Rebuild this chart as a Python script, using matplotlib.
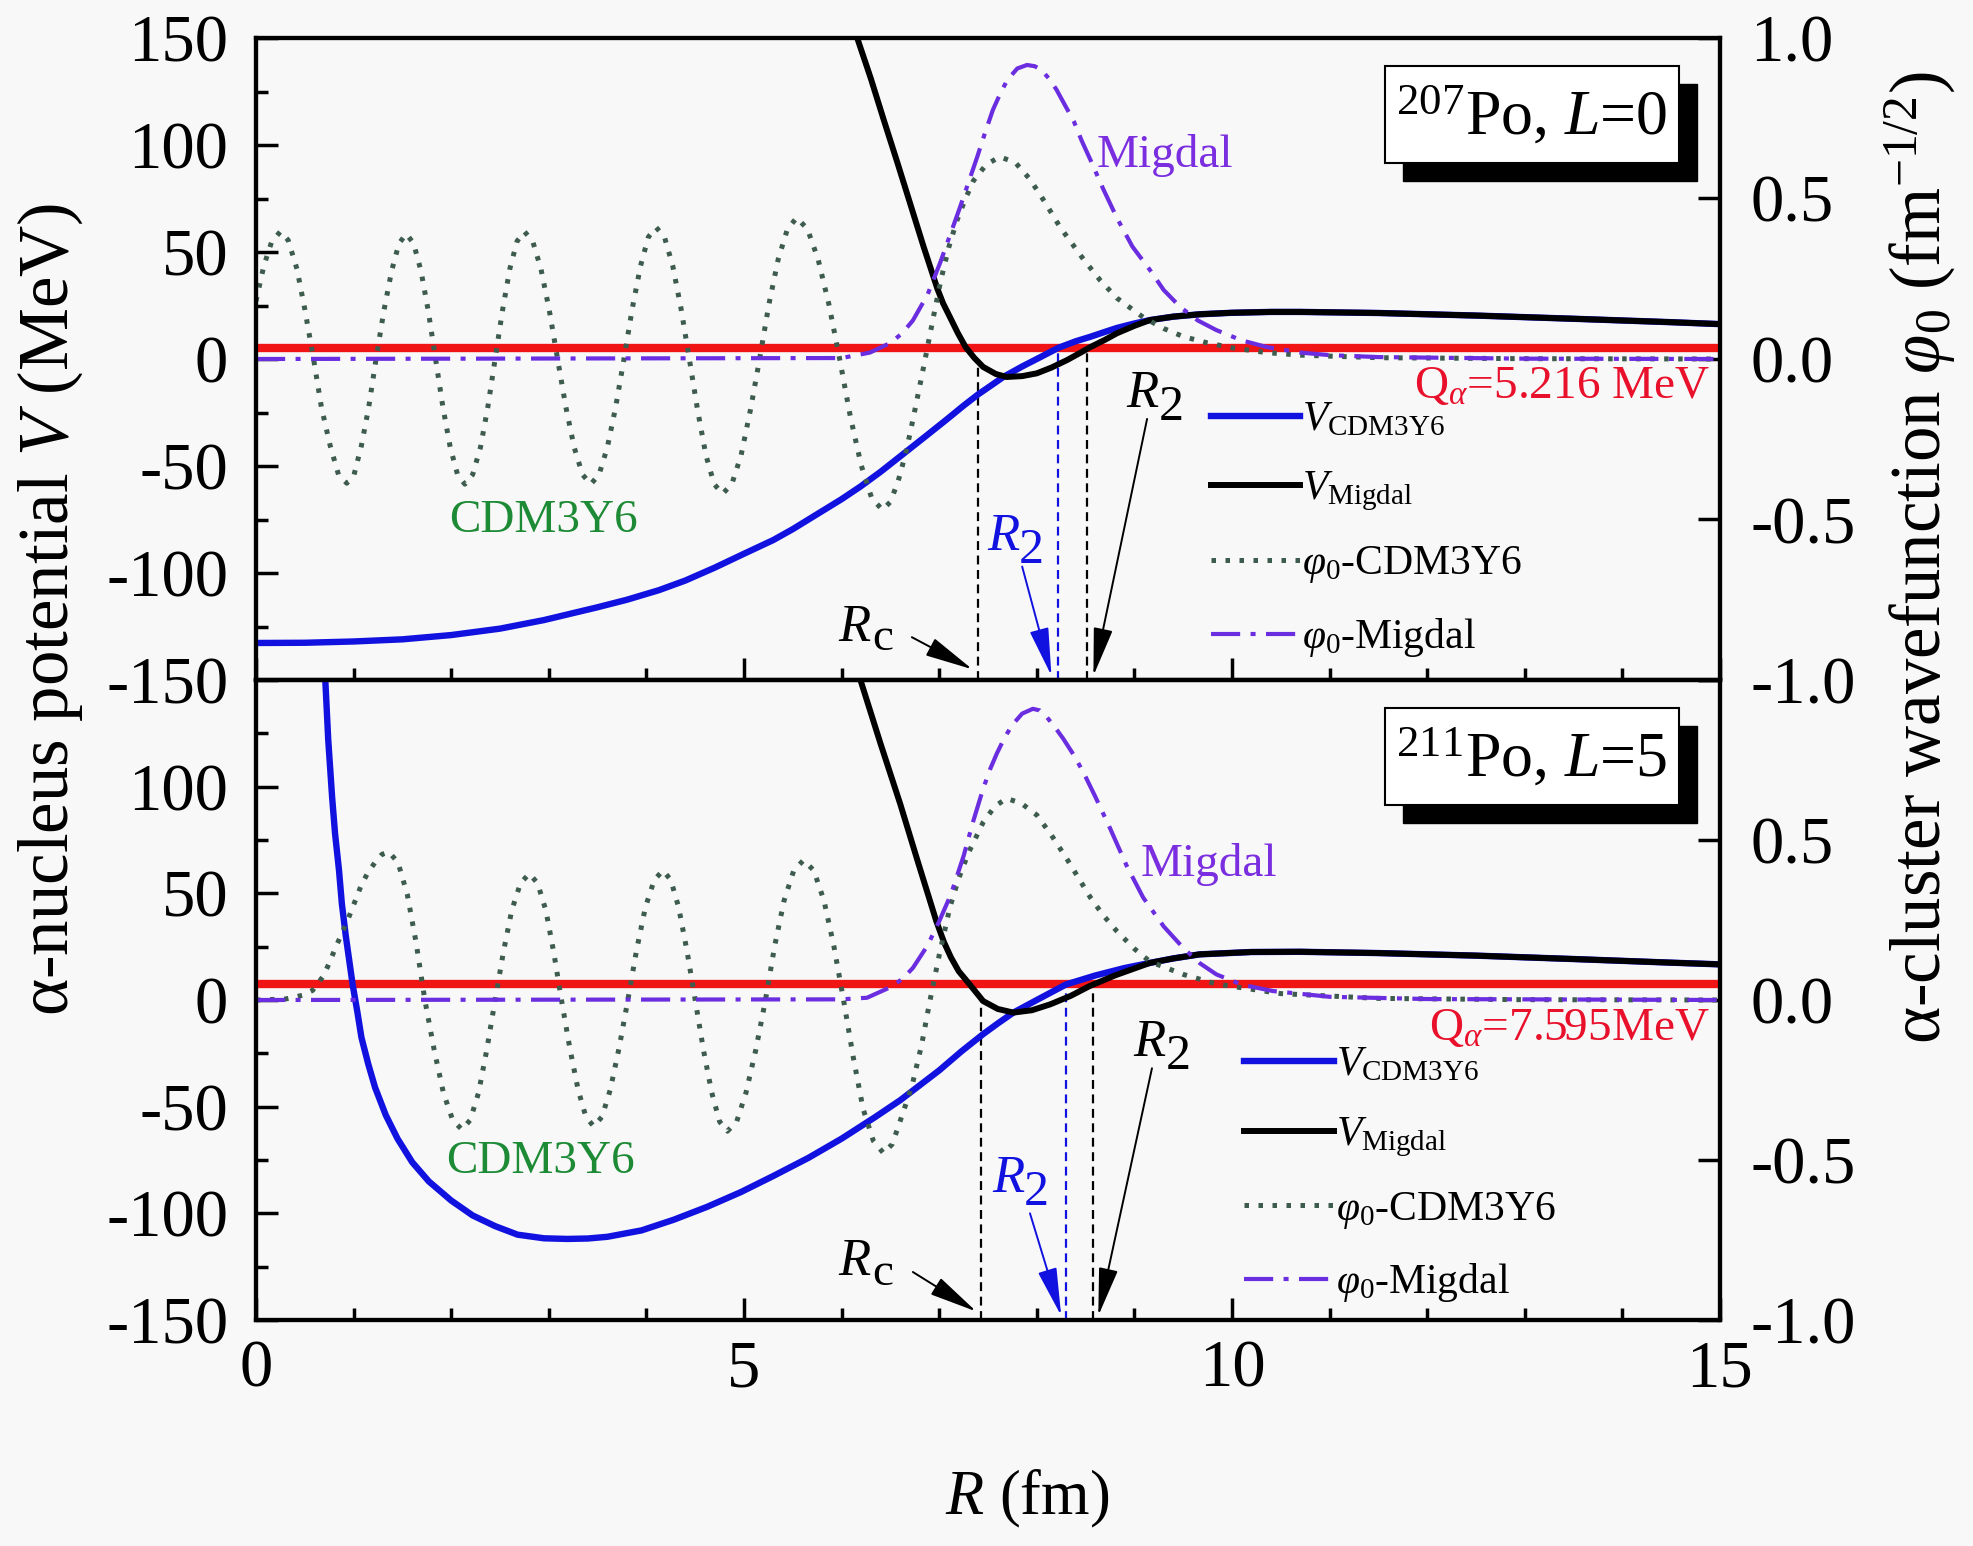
import numpy as np
import matplotlib
matplotlib.use('Agg')
import matplotlib.pyplot as plt
from matplotlib.patches import Rectangle
from matplotlib.ticker import MultipleLocator, FormatStrFormatter
import matplotlib.transforms as mtransforms

plt.rcParams['font.family'] = ['Liberation Serif', 'DejaVu Serif']
plt.rcParams['mathtext.fontset'] = 'custom'
plt.rcParams['mathtext.rm'] = 'Liberation Serif'
plt.rcParams['mathtext.it'] = 'Liberation Serif:italic'
plt.rcParams['mathtext.bf'] = 'Liberation Serif:bold'
plt.rcParams['axes.unicode_minus'] = False

# ---------------- data: top panel (207Po, L=0) ----------------
top_nucleus = "207"
top_L = "0"
top_Q = 5.216
top_Q_label = "=5.216 MeV"

top_R_vcdm = [0.0, 0.5, 1.0, 1.5, 2.0, 2.5, 2.95, 3.5, 3.8, 4.13, 4.4, 4.7, 5.0, 5.3, 5.5, 5.75,
              6.0, 6.19, 6.4, 6.6, 6.85, 7.07, 7.25, 7.4, 7.55, 7.66, 7.85, 8.0, 8.22, 8.4,
              8.55, 8.7, 8.82, 9.0, 9.16, 9.4, 9.67, 10.0, 10.4, 10.7, 11.5, 12.5, 13.5, 14.5,
              15.0]
top_V_vcdm = [-132.7, -132.6, -132.0, -131.0, -129.0, -126.0, -122.0, -116.0, -112.5, -108.0,
              -103.5, -97.5, -91.0, -84.6, -79.5, -72.5, -65.5, -59.7, -52.7, -45.5, -36.5,
              -28.5, -21.8, -16.5, -11.8, -8.3, -3.5, 0.0, 5.2, 8.3, 10.4, 12.7, 14.5, 16.6,
              18.2, 19.8, 20.9, 21.6, 22.0, 22.0, 21.5, 20.3, 18.8, 17.2, 16.3]

top_R_vmig = [6.16, 6.3, 6.43, 6.57, 6.7, 6.84, 6.98, 7.04, 7.11, 7.19, 7.27, 7.36, 7.45, 7.58,
              7.69, 7.85, 8.0, 8.15, 8.31, 8.45, 8.55, 8.7, 8.82, 9.0, 9.16, 9.4, 9.67, 10.0,
              10.4, 10.7, 11.5, 12.5, 13.5, 14.5, 15.0]
top_V_vmig = [150.0, 131.0, 112.0, 92.0, 73.0, 52.5, 33.0, 26.0, 19.6, 12.2, 5.6, 0.5, -3.7,
              -7.0, -8.4, -8.0, -6.7, -4.0, -0.5, 3.0, 5.6, 9.0, 12.0, 15.5, 18.2, 19.8, 20.9,
              21.6, 22.0, 22.0, 21.5, 20.3, 18.8, 17.2, 16.3]

top_R_phicdm = [0.00, 0.08, 0.16, 0.25, 0.33, 0.42, 0.50, 0.59, 0.67, 0.76, 0.845, 0.93, 1.005,
                1.08, 1.155, 1.23, 1.31, 1.39, 1.465, 1.54, 1.615, 1.69, 1.765, 1.84, 1.915,
                1.99, 2.065, 2.14, 2.22, 2.30, 2.375, 2.45, 2.525, 2.60, 2.675, 2.75, 2.835,
                2.92, 3.005, 3.09, 3.175, 3.26, 3.345, 3.43, 3.515, 3.60, 3.685, 3.77, 3.855,
                3.94, 4.02, 4.10, 4.185, 4.27, 4.355, 4.44, 4.525, 4.61, 4.695, 4.78, 4.875,
                4.97, 5.065, 5.16, 5.255, 5.35, 5.445, 5.54, 5.65, 5.76, 5.87, 5.98, 6.09,
                6.20, 6.31, 6.42, 6.50, 6.58, 6.66, 6.73, 6.79, 6.85, 6.94, 7.02, 7.10, 7.18,
                7.27, 7.35, 7.48, 7.62, 7.78, 7.93, 8.08, 8.24, 8.36, 8.48, 8.65, 8.82, 9.09,
                9.3, 9.5, 9.75, 10.0, 10.35, 10.7, 11.5, 13.0, 15.0]
top_P_phicdm = [0.18, 0.29, 0.365, 0.397, 0.37, 0.28, 0.155, 0.0, -0.15, -0.27, -0.36, -0.387,
                -0.36, -0.27, -0.15, 0.0, 0.15, 0.275, 0.36, 0.39, 0.36, 0.275, 0.15, 0.0,
                -0.15, -0.275, -0.36, -0.39, -0.36, -0.275, -0.15, 0.0, 0.15, 0.28, 0.367,
                0.397, 0.367, 0.28, 0.152, 0.0, -0.15, -0.275, -0.36, -0.39, -0.36, -0.275,
                -0.15, 0.0, 0.157, 0.29, 0.38, 0.41, 0.38, 0.29, 0.157, 0.0, -0.16, -0.30,
                -0.39, -0.42, -0.39, -0.30, -0.16, 0.0, 0.17, 0.31, 0.405, 0.44, 0.405, 0.31,
                0.17, 0.0, -0.18, -0.33, -0.435, -0.47, -0.445, -0.38, -0.29, -0.19, -0.10,
                -0.01, 0.13, 0.25, 0.35, 0.43, 0.50, 0.555, 0.605, 0.63, 0.612, 0.56, 0.49,
                0.41, 0.36, 0.31, 0.245, 0.19, 0.13, 0.095, 0.07, 0.05, 0.035, 0.02, 0.012,
                0.004, 0.001, 0.0]

top_R_phimig = [0.0, 6.0, 6.29, 6.5, 6.62, 6.73, 6.88, 7.01, 7.11, 7.21, 7.30, 7.39, 7.47, 7.55,
                7.63, 7.7, 7.8, 7.9, 7.98, 8.05, 8.12, 8.2, 8.29, 8.38, 8.46, 8.55, 8.68, 8.82,
                8.98, 9.16, 9.3, 9.47, 9.65, 9.84, 10.1, 10.36, 10.7, 11.0, 11.5, 13.0, 15.0]
top_P_phimig = [0.0, 0.003, 0.02, 0.05, 0.08, 0.12, 0.20, 0.30, 0.385, 0.47, 0.55, 0.63, 0.705,
                0.776, 0.83, 0.87, 0.905, 0.916, 0.912, 0.90, 0.875, 0.84, 0.79, 0.74, 0.68,
                0.62, 0.53, 0.44, 0.35, 0.277, 0.215, 0.162, 0.12, 0.09, 0.058, 0.037, 0.02,
                0.012, 0.006, 0.001, 0.0]

top_Rc = 7.40
top_R2_cdm = 8.22
top_R2_mig = 8.51

# ---------------- data: bottom panel (211Po, L=5) ----------------
bot_nucleus = "211"
bot_L = "5"
bot_Q = 7.595
bot_Q_label = "=7.595MeV"

bot_R_vcdm = [0.71, 0.74, 0.78, 0.81, 0.85, 0.88, 0.92, 0.96, 0.99, 1.04, 1.08, 1.15, 1.22, 1.33,
              1.45, 1.6, 1.77, 2.0, 2.22, 2.45, 2.68, 2.95, 3.19, 3.4, 3.6, 3.95, 4.28, 4.62,
              4.97, 5.3, 5.66, 6.0, 6.34, 6.6, 6.8, 7.0, 7.23, 7.45, 7.6, 7.76, 8.0, 8.3, 8.6,
              8.9, 9.16, 9.4, 9.67, 10.2, 10.7, 11.5, 12.5, 13.5, 14.5, 15.0]
bot_V_vcdm = [150.0, 122.0, 95.0, 78.0, 61.0, 45.0, 30.0, 17.0, 7.3, -6.0, -17.5, -30.0, -41.0,
              -54.0, -65.0, -76.0, -85.0, -94.0, -101.0, -106.0, -110.0, -111.7, -112.0,
              -111.8, -111.0, -108.0, -103.0, -97.0, -90.0, -82.5, -74.0, -65.0, -55.0, -47.0,
              -40.0, -33.0, -24.0, -16.0, -11.0, -5.9, 0.0, 7.3, 11.5, 15.0, 17.4, 19.5, 21.4,
              22.5, 22.6, 22.0, 20.8, 19.2, 17.5, 16.7]

bot_R_vmig = [6.2, 6.4, 6.6, 6.78, 6.97, 7.05, 7.12, 7.2, 7.3, 7.45, 7.6, 7.76, 7.95, 8.14, 8.35,
              8.54, 8.8, 9.16, 9.4, 9.67, 10.2, 10.7, 11.5, 12.5, 13.5, 14.5, 15.0]
bot_V_vmig = [149.0, 120.0, 92.0, 65.0, 37.0, 27.0, 20.0, 13.5, 8.0, -0.5, -4.2, -5.9, -4.8,
              -2.0, 2.0, 6.5, 11.5, 17.4, 19.5, 21.4, 22.5, 22.6, 22.0, 20.8, 19.2, 17.5, 16.7]

bot_R_phicdm = [0.0, 0.3, 0.48, 0.58, 0.69, 0.75, 0.81, 0.875, 0.94, 1.01, 1.08, 1.15, 1.22,
                1.29, 1.36, 1.455, 1.55, 1.64, 1.73, 1.825, 1.92, 2.015, 2.11, 2.195, 2.28,
                2.365, 2.45, 2.535, 2.62, 2.71, 2.80, 2.885, 2.97, 3.05, 3.13, 3.215, 3.30,
                3.38, 3.46, 3.545, 3.63, 3.72, 3.81, 3.90, 3.99, 4.08, 4.17, 4.25, 4.33, 4.415,
                4.50, 4.585, 4.67, 4.75, 4.83, 4.925, 5.02, 5.12, 5.22, 5.315, 5.41, 5.51,
                5.61, 5.715, 5.82, 5.92, 6.02, 6.12, 6.22, 6.325, 6.43, 6.52, 6.62, 6.72, 6.82,
                6.9, 7.0, 7.11, 7.2, 7.3, 7.45, 7.57, 7.69, 7.84, 8.0, 8.15, 8.31, 8.43, 8.55,
                8.68, 8.82, 9.0, 9.16, 9.5, 9.84, 10.5, 11.5, 13.0, 15.0]
bot_P_phicdm = [0.0, 0.003, 0.015, 0.03, 0.075, 0.115, 0.16, 0.205, 0.25, 0.305, 0.36, 0.40,
                0.43, 0.455, 0.463, 0.43, 0.33, 0.18, 0.0, -0.155, -0.29, -0.375, -0.405,
                -0.375, -0.29, -0.155, 0.0, 0.15, 0.28, 0.365, 0.395, 0.365, 0.28, 0.15, 0.0,
                -0.15, -0.28, -0.365, -0.395, -0.365, -0.28, -0.15, 0.0, 0.157, 0.29, 0.375,
                0.405, 0.375, 0.29, 0.155, 0.0, -0.157, -0.29, -0.38, -0.41, -0.38, -0.29,
                -0.157, 0.0, 0.17, 0.31, 0.405, 0.437, 0.405, 0.31, 0.17, 0.0, -0.18, -0.34,
                -0.44, -0.479, -0.45, -0.36, -0.27, -0.14, -0.01, 0.14, 0.29, 0.38, 0.46, 0.555,
                0.605, 0.63, 0.615, 0.578, 0.515, 0.44, 0.38, 0.32, 0.265, 0.215, 0.16, 0.12,
                0.08, 0.05, 0.02, 0.005, 0.001, 0.0]

bot_R_phimig = [0.0, 6.0, 6.26, 6.5, 6.62, 6.73, 6.88, 7.0, 7.12, 7.25, 7.35, 7.45, 7.52, 7.59,
                7.67, 7.75, 7.85, 7.96, 8.03, 8.1, 8.18, 8.27, 8.38, 8.48, 8.6, 8.75, 8.92,
                9.09, 9.3, 9.5, 9.67, 9.84, 10.1, 10.42, 11.0, 12.0, 15.0]
bot_P_phimig = [0.0, 0.002, 0.007, 0.04, 0.065, 0.10, 0.17, 0.246, 0.33, 0.45, 0.56, 0.66, 0.72,
                0.77, 0.82, 0.86, 0.895, 0.91, 0.905, 0.885, 0.855, 0.817, 0.765, 0.71, 0.635,
                0.537, 0.42, 0.32, 0.23, 0.163, 0.115, 0.08, 0.048, 0.028, 0.01, 0.003, 0.0]

bot_Rc = 7.43
bot_R2_cdm = 8.30
bot_R2_mig = 8.58

# ---------------- styles ----------------
C_BLUE = '#1212e0'
C_BLACK = '#000000'
C_RED = '#f01414'
C_DOT = '#3d5c4e'
C_DASHDOT = '#6b2de0'
C_GREEN = '#1d8a35'
C_PURPLE = '#7a2ee0'
BG = '#f8f8f8'

FS_TICK = 48
FS_LAB = 51
FS_LEG = 30
FS_ANN = 34

fig = plt.figure(figsize=(19.74, 15.46), dpi=100, facecolor=BG)
W, H = 1974.0, 1546.0
ax_top = fig.add_axes([256 / W, 1 - 680 / H, 1464 / W, 642 / H])
ax_bot = fig.add_axes([256 / W, 1 - 1320 / H, 1464 / W, 640 / H])


def sub_label(ax, x, y, main, sub, color, size, subsize, dx, dy, main_style='italic'):
    ax.text(x, y, main, color=color, fontsize=size, style=main_style,
            ha='right', va='center', zorder=10)
    tr = mtransforms.offset_copy(ax.transData, fig=fig, x=dx, y=dy, units='points')
    ax.text(x, y, sub, color=color, fontsize=subsize, ha='left', va='center',
            transform=tr, zorder=10)


def panel(ax, R_vcdm, V_vcdm, R_vmig, V_vmig, R_phicdm, P_phicdm, R_phimig, P_phimig,
          Q, Q_label, nucleus, L, Rc, R2c, R2m, layout, is_bottom):
    ax.set_facecolor(BG)
    axr = ax.twinx()

    # vertical guide lines
    v_rc = np.interp(Rc, R_vmig, V_vmig)
    ax.plot([Rc, Rc], [-150, v_rc], color='black', lw=1.6, ls=(0, (4, 2.5)), zorder=3)
    ax.plot([R2c, R2c], [-150, Q], color=C_BLUE, lw=1.6, ls=(0, (4, 2.5)), zorder=3)
    ax.plot([R2m, R2m], [-150, Q], color='black', lw=1.6, ls=(0, (4, 2.5)), zorder=3)

    l1, = ax.plot(R_vcdm, V_vcdm, color=C_BLUE, lw=4.6, zorder=5,
                  label=r'$V_{\mathrm{CDM3Y6}}$', solid_joinstyle='round')
    l2, = ax.plot(R_vmig, V_vmig, color=C_BLACK, lw=4.3, zorder=6,
                  label=r'$V_{\mathrm{Migdal}}$', solid_joinstyle='round')
    ax.axhline(Q, color=C_RED, lw=6.0, zorder=4)

    l3, = axr.plot(R_phicdm, P_phicdm, color=C_DOT, lw=3.6, ls=(0, (0.9, 1.9)),
                   label=r'$\varphi_{\mathit{0}}$-CDM3Y6')
    l4, = axr.plot(R_phimig, P_phimig, color=C_DASHDOT, lw=3.0, ls=(0, (7, 2.5, 1.2, 2.5)),
                   label=r'$\varphi_{\mathit{0}}$-Migdal')

    # ticks
    for a in (ax, axr):
        for s in a.spines.values():
            s.set_linewidth(3.0)
    ax.xaxis.set_major_locator(MultipleLocator(5))
    ax.xaxis.set_minor_locator(MultipleLocator(1))
    ax.yaxis.set_major_locator(MultipleLocator(50))
    ax.yaxis.set_minor_locator(MultipleLocator(25))
    axr.yaxis.set_major_locator(MultipleLocator(0.5))
    ax.tick_params(axis='both', which='major', direction='in', length=16, width=2.5,
                   labelsize=FS_TICK, top=False, right=False)
    ax.tick_params(axis='both', which='minor', direction='in', length=8.5, width=2.5,
                   top=False, right=False)
    ax.tick_params(axis='y', which='major', pad=20)
    ax.tick_params(axis='x', which='major', pad=14)
    axr.tick_params(axis='y', which='major', direction='in', length=16, width=2.5,
                    labelsize=FS_TICK, pad=22)
    axr.yaxis.set_major_formatter(FormatStrFormatter('%.1f'))
    if is_bottom:
        ax.set_yticks([-150, -100, -50, 0, 50, 100, 150])
        ax.set_yticklabels(['-150', '-100', '-50', '0', '50', '100', ''])
        axr.set_yticks([-1.0, -0.5, 0.0, 0.5, 1.0])
        axr.set_yticklabels(['-1.0', '-0.5', '0.0', '0.5', ''])
    else:
        ax.tick_params(axis='x', labelbottom=False)
    ax.set_xlim(0, 15)
    ax.set_ylim(-150, 150)
    axr.set_ylim(-1.0, 1.0)

    # legend
    leg = axr.legend([l1, l2, l3, l4], [l1.get_label(), l2.get_label(), l3.get_label(),
                     l4.get_label()], loc='upper left', bbox_to_anchor=layout['leg'],
                     frameon=False, fontsize=FS_LEG, handlelength=2.15, handletextpad=0.05,
                     labelspacing=0.74, borderaxespad=0, borderpad=0)
    leg.set_zorder(20)

    # Q label
    axr.text(0.993, layout['qy'], 'Q$_{\\alpha}$' + Q_label, transform=axr.transAxes,
             color='#e8102a', fontsize=FS_ANN, ha='right', va='center')

    # nucleus box with shadow
    bx0, bx1, by0, by1 = 0.771, 0.972, 0.805, 0.956
    sdx, sdy = 18 / 1464.0, 18 / 642.0
    axr.add_patch(Rectangle((bx0 + sdx, by0 - sdy), bx1 - bx0, by1 - by0,
                            transform=axr.transAxes, facecolor='black', edgecolor='black',
                            zorder=30))
    axr.add_patch(Rectangle((bx0, by0), bx1 - bx0, by1 - by0, transform=axr.transAxes,
                            facecolor='white', edgecolor='black', lw=1.5, zorder=31))
    axr.text((bx0 + bx1) / 2, (by0 + by1) / 2 - 0.005,
             r'$^{\mathrm{' + nucleus + r'}}$Po, $L$=' + L,
             transform=axr.transAxes, fontsize=46, ha='center', va='center', zorder=32)

    # curve labels
    ax.text(layout['cdm'][0], layout['cdm'][1], 'CDM3Y6', color=C_GREEN, fontsize=FS_ANN,
            ha='center', va='center', zorder=10)
    ax.text(layout['mig'][0], layout['mig'][1], 'Migdal', color=C_PURPLE, fontsize=FS_ANN,
            ha='center', va='center', zorder=10)

    # arrows and R labels
    arrow = dict(arrowstyle='-|>,head_length=1.5,head_width=0.3', lw=1.4,
                 shrinkA=0, shrinkB=0, mutation_scale=20)
    (tx, ty), (sx, sy), (ex, ey) = layout['rc']
    sub_label(ax, tx, ty, 'R', 'c', 'black', 38, 34, 1, -8)
    ax.annotate('', xy=(ex, ey), xytext=(sx, sy), arrowprops=dict(color='black', **arrow),
                zorder=10)
    (tx, ty), (sx, sy), (ex, ey) = layout['r2c']
    sub_label(ax, tx, ty, 'R', '2', C_BLUE, 38, 36, 0, -10)
    ax.annotate('', xy=(ex, ey), xytext=(sx, sy), arrowprops=dict(color=C_BLUE, **arrow),
                zorder=10)
    (tx, ty), (sx, sy), (ex, ey) = layout['r2m']
    sub_label(ax, tx, ty, 'R', '2', 'black', 38, 36, 0, -10)
    ax.annotate('', xy=(ex, ey), xytext=(sx, sy), arrowprops=dict(color='black', **arrow),
                zorder=10)
    return axr


top_layout = dict(leg=(0.652, 0.435), qy=0.457, cdm=(2.94, -75.7), mig=(9.31, 95),
                  rc=((6.3, -125.7), (6.72, -130), (7.34, -145)),
                  r2c=((7.82, -83), (7.85, -97), (8.15, -148)),
                  r2m=((9.25, -16.5), (9.13, -28), (8.58, -148)))
bot_layout = dict(leg=(0.675, 0.428), qy=0.455, cdm=(2.91, -76), mig=(9.76, 63.5),
                  rc=((6.3, -123), (6.73, -127.5), (7.38, -146)),
                  r2c=((7.87, -84), (7.93, -100), (8.25, -148)),
                  r2m=((9.32, -20), (9.18, -32), (8.63, -148)))

axr_top = panel(ax_top, top_R_vcdm, top_V_vcdm, top_R_vmig, top_V_vmig, top_R_phicdm,
                top_P_phicdm, top_R_phimig, top_P_phimig, top_Q, top_Q_label, top_nucleus,
                top_L, top_Rc, top_R2_cdm, top_R2_mig, top_layout, False)
axr_bot = panel(ax_bot, bot_R_vcdm, bot_V_vcdm, bot_R_vmig, bot_V_vmig, bot_R_phicdm,
                bot_P_phicdm, bot_R_phimig, bot_P_phimig, bot_Q, bot_Q_label, bot_nucleus,
                bot_L, bot_Rc, bot_R2_cdm, bot_R2_mig, bot_layout, True)

ax_bot.set_xticks([0, 5, 10, 15])
ax_bot.set_xticklabels(['0', '5', '10', '15'])
ax_bot.set_xlabel(r'$R$ (fm)', fontsize=45)
ax_bot.xaxis.set_label_coords(0.527, -0.28)
ax_bot.xaxis.label.set_va('center')

fig.text(50 / W, 1 - 609 / H, r'α-nucleus potential $V$ (MeV)', rotation=90,
         fontsize=FS_LAB, ha='center', va='center')
fig.text(1920 / W, 1 - 558 / H, r'α-cluster wavefunction $\varphi_{\mathit{0}}$ (fm$^{\mathrm{-1/2}}$)',
         rotation=90, fontsize=FS_LAB, ha='center', va='center')

fig.savefig('out.png', dpi=100, facecolor=BG)
